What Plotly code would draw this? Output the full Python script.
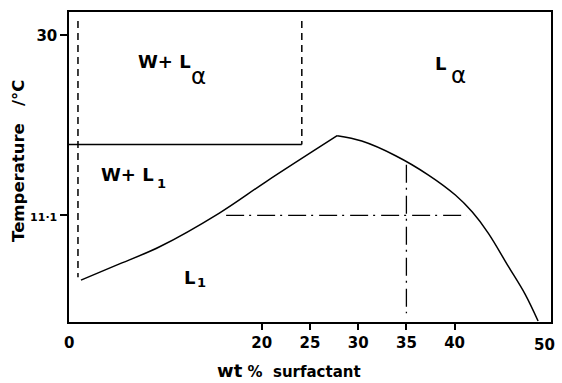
import plotly.graph_objects as go

# ---- data ----
rise_wt = [1.24, 4.93, 9.4, 15.6, 20.42, 27.82]
rise_T = [4.3, 5.87, 7.8, 11.34, 14.62, 19.46]
fall_wt = [27.82, 30.37, 33.88, 37.29, 40.08, 41.84, 43.49, 45.56, 47.31, 48.66]
fall_T = [19.46, 18.9, 17.36, 15.33, 13.23, 11.44, 9.24, 5.77, 2.83, 0.0]

hline_wt = [0.0, 24.15]
hline_T = [18.55, 18.55]
left_dash_wt = [0.93, 0.93]
left_dash_T = [31.5, 4.6]
right_dash_wt = [24.15, 24.15]
right_dash_T = [31.5, 18.55]
dd_h_wt = [16.3, 41.2]
dd_h_T = [11.1, 11.1]
dd_v_wt = [35.0, 35.0]
dd_v_T = [16.4, 0.83]

x_ticks = [20, 25, 30, 35, 40]
y_ticks = [11.1, 30]
y_ticktext = ["<span style='font-size:11px'>11·1</span>", "30"]

FONT = "DejaVu Sans"
K = "black"

fig = go.Figure()
solid = dict(color=K, width=1.5)
fig.add_trace(go.Scatter(x=rise_wt, y=rise_T, mode="lines", line=dict(color=K, width=1.5, shape="spline", smoothing=1.0)))
fig.add_trace(go.Scatter(x=fall_wt, y=fall_T, mode="lines", line=dict(color=K, width=1.5, shape="spline", smoothing=1.0)))
fig.add_trace(go.Scatter(x=hline_wt, y=hline_T, mode="lines", line=solid))
fig.add_trace(go.Scatter(x=left_dash_wt, y=left_dash_T, mode="lines", line=dict(color=K, width=1.5, dash="7px,5px")))
fig.add_trace(go.Scatter(x=right_dash_wt, y=right_dash_T, mode="lines", line=dict(color=K, width=1.5, dash="7px,5px")))
fig.add_trace(go.Scatter(x=dd_h_wt, y=dd_h_T, mode="lines", line=dict(color=K, width=1.3, dash="18px,5px,2px,6px")))
fig.add_trace(go.Scatter(x=dd_v_wt, y=dd_v_T, mode="lines", line=dict(color=K, width=1.3, dash="18px,5px,2px,6px")))

ann = []
def A(text, x, y, size, bold=True, xanchor="left", xref="x", yref="y", angle=0):
    t = f"<b>{text}</b>" if bold else text
    ann.append(dict(text=t, x=x, y=y, xref=xref, yref=yref, showarrow=False,
                    xanchor=xanchor, yanchor="middle", textangle=angle,
                    font=dict(family=FONT, size=size, color=K)))

A("W+ L", 7.0, 27.23, 18)
A("α", 13.45, 25.75, 23, bold=False, xanchor="center")
A("L", 37.8, 27.04, 18)
A("α", 40.4, 25.8, 23, bold=False, xanchor="center")
A("W+ L", 3.1, 15.38, 18)
A("1", 9.55, 14.45, 13, xanchor="center")
A("L", 11.7, 4.56, 18)
A("1", 13.75, 4.0, 13, xanchor="center")

A("0", 0.0, -0.068, 15, xanchor="center", xref="paper", yref="paper")
A("50", 0.987, -0.074, 15, xanchor="center", xref="paper", yref="paper")
A("Temperature\u00a0\u00a0\u00a0/°C", -0.105, 0.521, 16.5, xanchor="center", xref="paper", yref="paper", angle=-90)
A("<span style='font-size:18px'>wt</span>\u00a0<span style='font-size:15px'>%</span>\u00a0\u00a0<span style='font-size:15px'>surfactant</span>",
  0.457, -0.158, 15, xanchor="center", xref="paper", yref="paper")

fig.update_layout(
    width=562, height=383,
    margin=dict(l=69, r=9, t=12, b=61),
    paper_bgcolor="white", plot_bgcolor="white",
    showlegend=False,
    annotations=ann,
    font=dict(family=FONT, color=K),
)
fig.update_xaxes(range=[0, 50], tickvals=x_ticks, ticktext=[f"<b>{v}</b>" for v in x_ticks],
                 ticks="outside", ticklen=6, tickwidth=1.5, tickcolor=K,
                 showline=True, linecolor=K, linewidth=1.5, mirror=True,
                 showgrid=False, zeroline=False, tickfont=dict(family=FONT, size=15, color=K))
fig.update_yaxes(range=[-0.1, 32.45], tickvals=y_ticks, ticktext=[f"<b>{t}</b>" for t in y_ticktext],
                 ticks="outside", ticklen=7, tickwidth=1.5, tickcolor=K,
                 showline=True, linecolor=K, linewidth=1.5, mirror=True,
                 showgrid=False, zeroline=False, tickfont=dict(family=FONT, size=15, color=K))

fig.write_html("out.html")
